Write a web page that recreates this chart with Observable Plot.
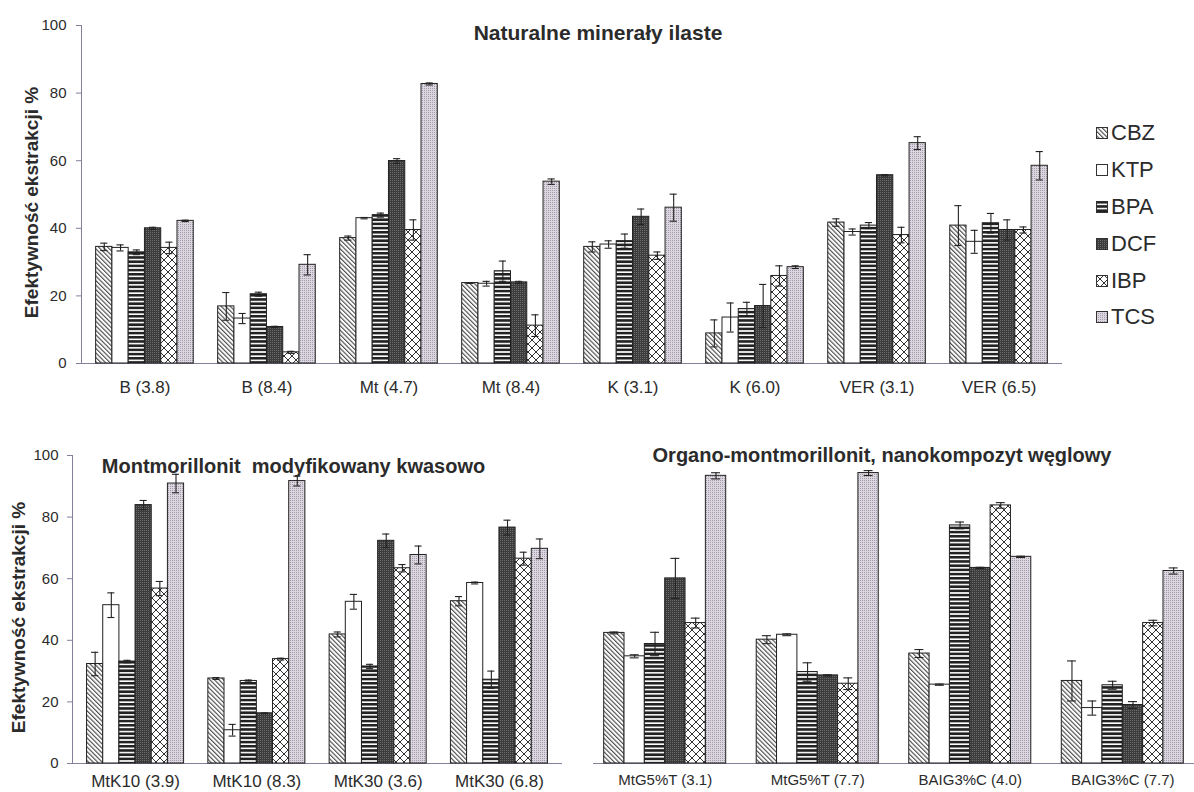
<!DOCTYPE html>
<html lang="pl">
<head>
<meta charset="utf-8">
<title>Efektywność ekstrakcji</title>
<script src="https://cdn.jsdelivr.net/npm/d3@7"></script>
<script src="https://cdn.jsdelivr.net/npm/@observablehq/plot@0.6"></script>
<style>
  body { margin: 0; background: #fff; }
  #fig { position: relative; width: 1194px; height: 792px; overflow: hidden; background: #fff;
         font-family: "Liberation Sans", Arial, sans-serif; color: #2b2b2b; }
  .panel { position: absolute; }
  #legend { position: absolute; left: 1096px; top: 115px; }
  .item { display: flex; align-items: center; height: 36.8px; font-size: 22px; line-height: 1; }
  .item svg { margin-right: 3px; }
</style>
</head>
<body>
<!-- hatch fills shared by every panel and the legend -->
<svg width="0" height="0" style="position:absolute">
  <defs>
    <pattern id="p-cbz" patternUnits="userSpaceOnUse" width="3.2" height="8" patternTransform="rotate(-45)">
      <rect width="3.2" height="8" fill="#fff"/>
      <line x1="0.6" y1="0" x2="0.6" y2="8" stroke="#333" stroke-width="1"/>
    </pattern>
    <pattern id="p-ktp" patternUnits="userSpaceOnUse" width="4" height="4">
      <rect width="4" height="4" fill="#fff"/>
    </pattern>
    <pattern id="p-bpa" patternUnits="userSpaceOnUse" width="4" height="4.2">
      <rect width="4" height="4.2" fill="#fff"/>
      <rect width="4" height="2.6" fill="#222"/>
    </pattern>
    <pattern id="p-dcf" patternUnits="userSpaceOnUse" width="2" height="2">
      <rect width="2" height="2" fill="#3c3c3c"/>
      <rect width="1" height="1" fill="#6c6c6c"/>
    </pattern>
    <pattern id="p-ibp" patternUnits="userSpaceOnUse" width="8" height="8">
      <rect width="8" height="8" fill="#fff"/>
      <path d="M0,0L8,8M8,0L0,8" stroke="#333" stroke-width="1"/>
    </pattern>
    <pattern id="p-tcs" patternUnits="userSpaceOnUse" width="2" height="2">
      <rect width="2" height="2" fill="#dcd6e0"/>
      <rect width="1" height="1" fill="#a29ca8"/>
    </pattern>
  </defs>
</svg>
<div id="fig">
  <div id="legend"></div>
</div>
<script>
// Compounds (one bar each per sample) and their fills
const series = ["CBZ", "KTP", "BPA", "DCF", "IBP", "TCS"];
const fills = ["url(#p-cbz)", "url(#p-ktp)", "url(#p-bpa)", "url(#p-dcf)", "url(#p-ibp)", "url(#p-tcs)"];

const yLabel = "Efektywność ekstrakcji %";
const yTicks = [0, 20, 40, 60, 80, 100];

// Natural clay minerals (pH in brackets)
const topTitle = "Naturalne minerały ilaste";
const topGroups = ["B (3.8)", "B (8.4)", "Mt (4.7)", "Mt (8.4)", "K (3.1)", "K (6.0)", "VER (3.1)", "VER (6.5)"];
const topValues = [
  [34.5, 34.2, 32.9, 40.0, 34.2, 42.2],
  [16.9, 13.3, 20.5, 10.8, 3.3, 29.2],
  [37.1, 43.0, 43.9, 59.9, 39.5, 82.7],
  [23.8, 23.6, 27.3, 24.0, 11.2, 53.8],
  [34.5, 35.2, 36.2, 43.4, 31.9, 46.1],
  [8.9, 13.6, 16.1, 17.0, 25.9, 28.5],
  [41.7, 38.9, 40.8, 55.7, 38.0, 65.2],
  [40.8, 36.0, 41.5, 39.5, 39.5, 58.5]
];
const topErrors = [
  [1.1, 0.9, 0.7, 0.3, 1.7, 0.2],
  [4.1, 1.5, 0.6, 0.2, 0.3, 3.0],
  [0.6, 0.2, 0.6, 0.7, 3.0, 0.3],
  [0.1, 0.7, 3.0, 0.3, 3.2, 0.8],
  [1.5, 1.1, 2.1, 2.3, 1.1, 4.0],
  [4.0, 4.3, 2.0, 6.4, 3.0, 0.4],
  [1.1, 0.9, 0.9, 0.2, 2.3, 1.9],
  [5.9, 3.4, 2.9, 3.0, 0.9, 4.2]
];

// Acid-modified montmorillonite
const acidTitle = "Montmorillonit\u00a0 modyfikowany kwasowo";
const acidGroups = ["MtK10 (3.9)", "MtK10 (8.3)", "MtK30 (3.6)", "MtK30 (6.8)"];
const acidValues = [
  [32.3, 51.4, 33.1, 83.9, 56.8, 90.9],
  [27.6, 10.8, 26.8, 16.3, 33.9, 91.7],
  [41.9, 52.5, 31.5, 72.3, 63.4, 67.7],
  [52.7, 58.6, 27.2, 76.6, 66.5, 69.7]
];
const acidErrors = [
  [3.8, 4.0, 0.4, 1.5, 2.3, 3.0],
  [0.3, 1.9, 0.3, 0.1, 0.3, 1.6],
  [0.8, 2.4, 0.7, 2.2, 1.2, 2.9],
  [1.5, 0.3, 2.8, 2.4, 2.1, 3.2]
];

// Organo-montmorillonite and carbon nanocomposite
const organoTitle = "Organo-montmorillonit, nanokompozyt węglowy";
const organoGroups = ["MtG5%T (3.1)", "MtG5%T (7.7)", "BAIG3%C (4.0)", "BAIG3%C (7.7)"];
const organoValues = [
  [42.4, 34.8, 38.8, 60.1, 45.6, 93.4],
  [40.2, 41.8, 29.7, 28.6, 25.9, 94.3],
  [35.7, 25.6, 77.3, 63.5, 83.8, 67.1],
  [26.8, 18.0, 25.4, 19.0, 45.6, 62.5]
];
const organoErrors = [
  [0.3, 0.5, 3.8, 6.5, 1.6, 1.0],
  [1.3, 0.3, 3.0, 0.2, 1.9, 0.8],
  [1.3, 0.2, 1.1, 0.2, 0.9, 0.2],
  [6.5, 2.3, 1.3, 1.1, 0.9, 1.0]
];

const axisColor = "#857f9e";
const ink = "#2b2b2b";
const paddingInner = 0.2;

function panel(o) {
  const rows = o.groups.flatMap((g, gi) =>
    series.map((s, si) => ({group: g, series: s, si, value: o.values[gi][si], error: o.errors[gi][si]})));
  // band geometry of the group scale, used to place each compound inside its group
  const step = (o.width - o.marginLeft - o.marginRight) / (o.groups.length - paddingInner + 2 * o.paddingOuter);
  const bw = step * (1 - paddingInner);
  const w = bw / series.length;
  const cap = w * 0.28;
  const n = series.length;

  const marks = [];
  if (o.yAxis) {
    marks.push(Plot.frame({anchor: "left", stroke: axisColor}));
    marks.push(Plot.axisY({ticks: yTicks, tickSize: 5, tickPadding: o.yTickPadding, fontSize: 15,
                           label: null, stroke: axisColor, fill: ink}));
    marks.push(Plot.text([yLabel], {text: d => d, frameAnchor: "left", textAnchor: "middle", lineAnchor: "middle",
                                    rotate: -90, dx: o.yLabelDx, dy: o.yLabelDy,
                                    fontSize: 19, fontWeight: "bold", fill: ink}));
  }
  marks.push(Plot.ruleY([0], {stroke: axisColor}));
  series.forEach((s, si) => {
    const d = rows.filter(r => r.si === si);
    marks.push(Plot.barY(d, {x: "group", y: "value", fill: fills[si], stroke: "#222", strokeWidth: 1,
                             insetLeft: si * w, insetRight: (n - 1 - si) * w}));
    marks.push(Plot.ruleX(d, {x: "group", y1: r => r.value - r.error, y2: r => r.value + r.error,
                              dx: (si + 0.5) * w - bw / 2, stroke: "#222", strokeWidth: 1.1}));
    marks.push(Plot.tickY(d, {x: "group", y: r => r.value - r.error, stroke: "#222", strokeWidth: 1.1,
                              insetLeft: si * w + cap, insetRight: (n - 1 - si) * w + cap}));
    marks.push(Plot.tickY(d, {x: "group", y: r => r.value + r.error, stroke: "#222", strokeWidth: 1.1,
                              insetLeft: si * w + cap, insetRight: (n - 1 - si) * w + cap}));
  });
  marks.push(Plot.axisX({tickSize: 0, tickPadding: o.xTickPadding, fontSize: o.xFontSize, label: null, fill: ink}));
  marks.push(Plot.text([o.title], {text: d => d, frameAnchor: "top", lineAnchor: "middle", dx: o.titleDx, dy: o.titleDy,
                                   fontSize: o.titleSize, fontWeight: "bold", fill: ink}));

  const chart = Plot.plot({
    width: o.width,
    height: o.height,
    marginLeft: o.marginLeft,
    marginRight: o.marginRight,
    marginTop: o.marginTop,
    marginBottom: o.marginBottom,
    style: {fontFamily: "'Liberation Sans', Arial, sans-serif", color: ink, background: "none", overflow: "visible"},
    x: {domain: o.groups, paddingInner, paddingOuter: o.paddingOuter, round: false, label: null},
    y: o.yAxis ? {domain: [0, 100], label: null} : {domain: [0, 100], label: null, axis: null},
    marks
  });
  const holder = document.createElement("div");
  holder.className = "panel";
  holder.style.left = o.left + "px";
  holder.style.top = o.top + "px";
  holder.appendChild(chart);
  document.getElementById("fig").appendChild(holder);
}

panel({groups: topGroups, values: topValues, errors: topErrors, title: topTitle, titleSize: 21,
       left: 0, top: 0, width: 1080, height: 400, marginLeft: 81, marginRight: 18, marginTop: 25, marginBottom: 37,
       paddingOuter: 0.12, yAxis: true, yTickPadding: 10, yLabelDx: -50, yLabelDy: 8,
       xTickPadding: 17, xFontSize: 17, titleDx: 26, titleDy: 8});

panel({groups: acidGroups, values: acidValues, errors: acidErrors, title: acidTitle, titleSize: 20,
       left: 0, top: 430, width: 580, height: 362, marginLeft: 72, marginRight: 18, marginTop: 25, marginBottom: 29,
       paddingOuter: 0.12, yAxis: true, yTickPadding: 9, yLabelDx: -54, yLabelDy: 8,
       xTickPadding: 11, xFontSize: 17, titleDx: -24, titleDy: 11});

panel({groups: organoGroups, values: organoValues, errors: organoErrors, title: organoTitle, titleSize: 20,
       left: 580, top: 430, width: 614, height: 362, marginLeft: 13, marginRight: 0, marginTop: 25, marginBottom: 29,
       paddingOuter: 0.07, yAxis: false,
       xTickPadding: 11, xFontSize: 15, titleDx: -12, titleDy: 0});

// legend
const legend = d3.select("#legend");
series.forEach((s, i) => {
  const item = legend.append("div").attr("class", "item");
  const sw = item.append("svg").attr("width", 12).attr("height", 12);
  sw.append("rect").attr("x", 0.5).attr("y", 0.5).attr("width", 11).attr("height", 11)
    .attr("fill", fills[i]).attr("stroke", "#333").attr("stroke-width", 1);
  item.append("span").text(s);
});
</script>
</body>
</html>
